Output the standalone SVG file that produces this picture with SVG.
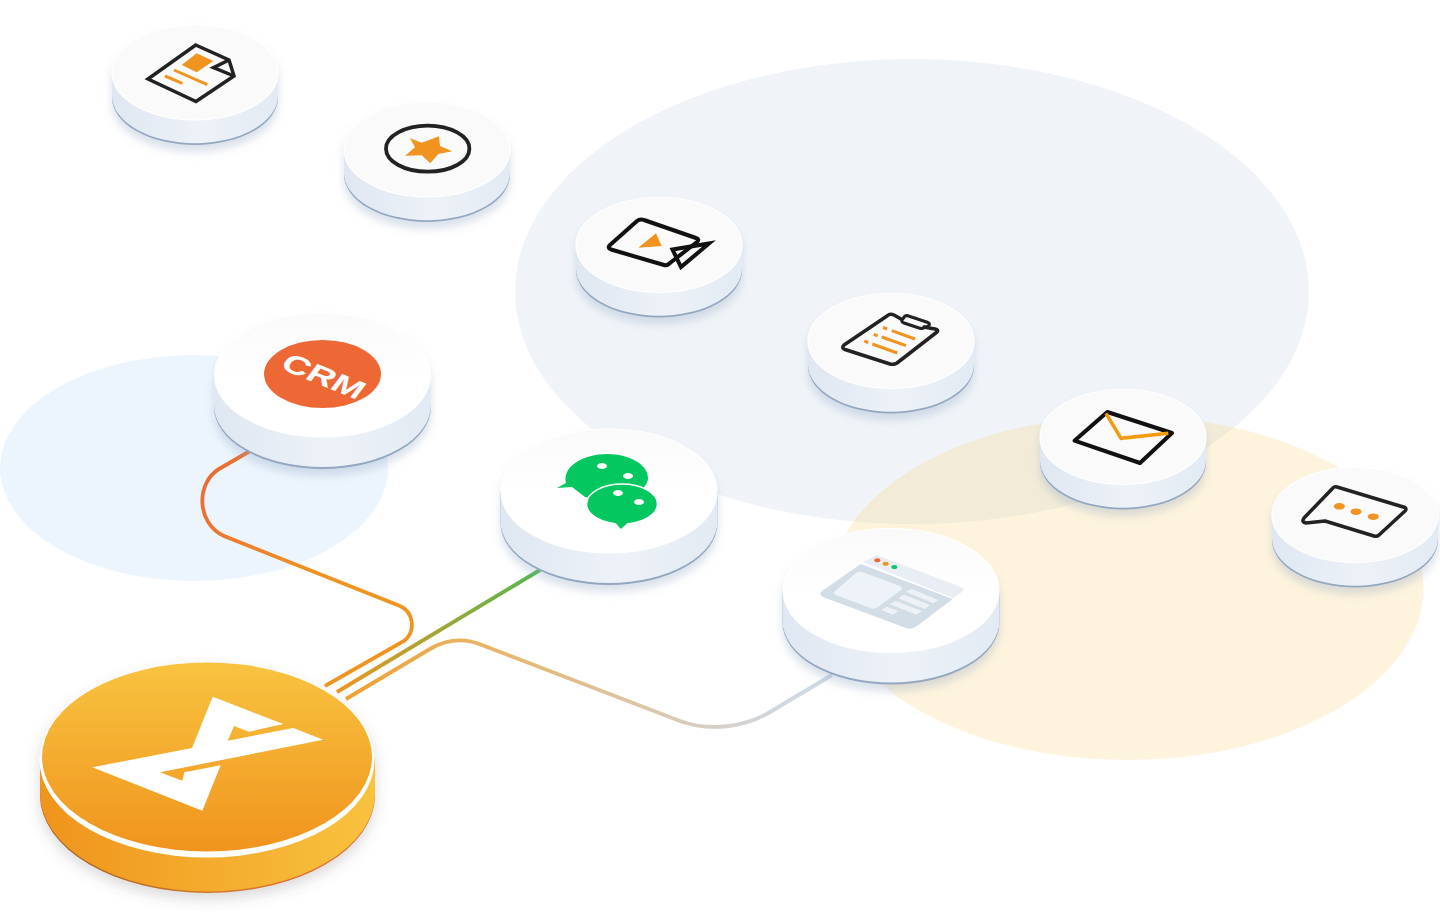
<svg xmlns="http://www.w3.org/2000/svg" width="1440" height="920" viewBox="0 0 1440 920">
<style>
.ik{fill:none;stroke:#222;stroke-width:3.5;stroke-linejoin:round;stroke-linecap:round}
.im{fill:none;stroke:#222;stroke-width:3.5;stroke-linejoin:miter}
.or{fill:#f0941f}
.ol{fill:none;stroke:#f0941f;stroke-width:3}
.cn{fill:none;stroke-width:3.8;stroke-linecap:butt}
.rim{stroke:#fff;stroke-width:1.2}
</style>
<defs>
<linearGradient id="side" x1="0" y1="0" x2="1" y2="0"><stop offset="0" stop-color="#dfe7f2"/><stop offset=".55" stop-color="#eef2f8"/><stop offset="1" stop-color="#e2eaf3"/></linearGradient>
<linearGradient id="topw" x1="0" y1="0" x2="0" y2="1"><stop offset="0" stop-color="#fafafa"/><stop offset=".5" stop-color="#ffffff"/></linearGradient>
<linearGradient id="gtop" x1="0" y1="0" x2="0" y2="1"><stop offset="0" stop-color="#f8c340"/><stop offset="1" stop-color="#f0941e"/></linearGradient>
<linearGradient id="gside" x1="0" y1="0" x2="1" y2="0"><stop offset="0" stop-color="#ef941d"/><stop offset="1" stop-color="#f8c23e"/></linearGradient>
<linearGradient id="gedge" x1="0" y1="0" x2="1" y2="0"><stop offset="0" stop-color="#9c5a18"/><stop offset=".5" stop-color="#cf7a28"/><stop offset="1" stop-color="#e8693a"/></linearGradient>
<linearGradient id="c1" gradientUnits="userSpaceOnUse" x1="210" y1="470" x2="400" y2="640"><stop offset="0" stop-color="#ea6b35"/><stop offset=".6" stop-color="#f0941f"/></linearGradient>
<linearGradient id="c2" gradientUnits="userSpaceOnUse" x1="540" y1="570" x2="337" y2="692"><stop offset="0" stop-color="#52b84e"/><stop offset="1" stop-color="#f0941f"/></linearGradient>
<linearGradient id="c3" gradientUnits="userSpaceOnUse" x1="346" y1="698" x2="832" y2="680"><stop offset="0" stop-color="#f0a030"/><stop offset=".3" stop-color="#e8b468"/><stop offset=".9" stop-color="#cfd8e3"/></linearGradient>
<filter id="sh" x="-20%" y="-20%" width="140%" height="150%"><feDropShadow dx="0" dy="7" stdDeviation="4" flood-color="#8da3c2" flood-opacity=".32"/></filter>
<filter id="shg" x="-20%" y="-20%" width="140%" height="150%"><feDropShadow dx="0" dy="6" stdDeviation="7" flood-color="#555" flood-opacity=".22"/></filter>
<g id="disc-s" filter="url(#sh)">
<path d="M-83,0V25A83,47.500 0 0 0 83,25V0Z" fill="#93a7c0"/>
<path d="M-83,0V23.200A83,47.500 0 0 0 83,23.200V0Z" fill="url(#side)"/>
<ellipse rx="83" ry="47.500" fill="#fafafa" class="rim"/>
</g>
<g id="disc-l" filter="url(#sh)">
<path d="M-108.500,0V32A108.500,62 0 0 0 108.500,32V0Z" fill="#93a7c0"/>
<path d="M-108.500,0V30A108.500,62 0 0 0 108.500,30V0Z" fill="url(#side)"/>
<ellipse rx="108" ry="62" fill="url(#topw)" class="rim"/>
</g>
</defs>
<rect width="1440" height="920" fill="#fff"/>
<g id="backdrops">
<ellipse cx="912" cy="291.500" rx="397" ry="232.500" fill="#f0f4f8"/>
<ellipse cx="194" cy="468" rx="194" ry="113" fill="#ecf5fd"/>
<ellipse cx="1127" cy="588" rx="296.500" ry="172" fill="#fac855" fill-opacity=".2"/>
</g>
<g id="connectors">
<path class="cn" stroke="url(#c1)" d="M250,451L219,469C196,483 196,523 224,536L400,606C414,612 416,632 404,641L325,686"/>
<path class="cn" stroke="url(#c2)" d="M540,570L337,692"/>
<path class="cn" stroke="url(#c3)" d="M346,699L430,649C447,639 465,638 482,645L680,721C710,732 745,727 770,712L832,675"/>
</g>
<g id="node-doc"><use href="#disc-s" x="195" y="72.500"/>
<path class="im" d="M195.700,45L229,60L234,76L196,101.500L148,79Z"/>
<path class="im" d="M229,60L213.500,67.700L234,76"/>
<path class="or" d="M196.700,53.300L213.300,61L196.700,72.300L181.700,65Z"/>
<path class="ol" d="M174,70L207.300,84.700M165,76L182.300,83.300"/>
</g>
<g id="node-star"><use href="#disc-s" x="427" y="149.500"/>
<ellipse cx="427.700" cy="148.700" rx="41.700" ry="23" fill="none" stroke="#222" stroke-width="3.800"/>
<path class="or" d="M410,138.300L421.700,142.700L439,136.300L440,146L452.300,151.300L438.300,154L430.300,163.300L421.700,155.300L405,155.700L415,147.300Z"/>
</g>
<g id="node-video"><use href="#disc-s" x="659" y="245"/>
<path class="ik" style="stroke:#111;stroke-width:4" d="M697,242Q700,239 696,238L644,220Q640,218.500 637,221L610,245Q607,248 611,249.500L664,265Q667,266 670,263Z"/>
<path d="M672.500,249.500L709,243.500L681,267Z" fill="none" stroke="#111" stroke-width="4"/>
<path class="or" d="M656,233.300L661.700,246L638.300,247.700Z"/>
</g>
<g id="node-clipboard"><use href="#disc-s" x="891" y="341"/>
<path class="ik" d="M901,319L894,315Q890,313 887,316L844,345Q841,348 845,349.500L890,364Q894,365 897,363L937,332Q939,330 935,329L924,327"/>
<path class="ik" d="M907,315.500L928,322.500Q931,324 928,326L924,328Q922,329 919,328L904,323Q901,322 902,320L905,316Z" style="stroke-width:3"/>
<path class="ol" d="M891.700,330.700L915,339M881.700,337L906,345.700M872.300,344L897.300,353M883,327.500L887,329M873.700,334.300L877.700,335.800M864.300,341L868.300,342.500"/>
</g>
<g id="node-mail"><use href="#disc-s" x="1123" y="437"/>
<path class="ik" style="stroke:#111;stroke-width:4" d="M1107.300,412L1172,433L1140,463L1074.500,440.700Z"/>
<path d="M1106,413.300L1121,438.300L1168.300,433.300" fill="none" stroke="#f59a0e" stroke-width="3.500"/>
</g>
<g id="node-chat"><use href="#disc-s" x="1355" y="515"/>
<path class="ik" d="M1337,487L1405,507.500Q1407,509 1405,511L1379,535Q1377,537 1374,536L1325,521L1306,523Q1301,522 1304,518L1332,489Q1334,486 1337,487Z"/>
<ellipse class="or" cx="1339.300" cy="506.300" rx="5.500" ry="3.300"/>
<ellipse class="or" cx="1356" cy="511.700" rx="5.500" ry="3.300"/>
<ellipse class="or" cx="1373.300" cy="516.700" rx="5.500" ry="3.300"/>
</g>
<g id="node-crm"><use href="#disc-l" x="322.500" y="375"/>
<ellipse cx="322.500" cy="374" rx="58.500" ry="34" fill="#ee6836"/>
<text transform="matrix(0.93,0.38,-0.45,0.6,318,384)" text-anchor="middle" font-family="'Liberation Sans','Open Sans',sans-serif" font-weight="700" font-size="37" fill="#fff">CRM</text>
</g>
<g id="node-wechat"><use href="#disc-l" x="609" y="491"/>
<path d="M557,488L566,483C562,466 584,454 607,454C630,454 648,465 648,478C648,490 630,498 607,498C598,498 592,499 585,497L572,487Z" fill="#05c75f"/>
<ellipse cx="622" cy="504" rx="35.500" ry="20" fill="#05c75f" stroke="#fff" stroke-width="1.500"/>
<path d="M615,522.500L621,529L628,522.500Z" fill="#05c75f"/>
<ellipse cx="602" cy="466" rx="5" ry="3" fill="#fff"/>
<ellipse cx="628" cy="476" rx="5" ry="3" fill="#fff"/>
<ellipse cx="618" cy="493" rx="5" ry="3" fill="#fff"/>
<ellipse cx="639" cy="502" rx="5" ry="3" fill="#fff"/>
</g>
<g id="node-browser"><use href="#disc-l" x="891" y="590.500"/>
<path d="M876.700,555L961,587Q966,590 962,592L953,598L863,562Z" fill="#e9eef4"/>
<path d="M860.700,564L952.700,599L917,626Q912,630 906,628L823,597Q818,594 822,591Z" fill="#d3dde6"/>
<path d="M862,572L900,586Q904,588 901,590L878,607Q874,610 870,608L836,595Q832,593 835,591L856,573Q859,571 862,572Z" fill="#eef2f9"/>
<path fill="#eef2f7" d="M911.700,589L938.300,600L933.300,603.300L906,591.700ZM904,594.700L930,605L924.700,609L898.300,598.300ZM896,601L921.700,611L916.700,614.700L890,604.300ZM886.700,606.700L898.300,611L893.300,614.700L881,610Z"/>
<ellipse cx="877.300" cy="560.300" rx="3" ry="2" fill="#ee6a35"/>
<ellipse cx="885.700" cy="563.700" rx="3" ry="2" fill="#f0941f"/>
<ellipse cx="894.300" cy="567" rx="3" ry="2" fill="#0cc860"/>
</g>
<g id="node-hub">
<g filter="url(#shg)">
<path d="M40,758V795A167.500,98 0 0 0 375,795V758Z" fill="url(#gedge)"/>
<path d="M40,758V793.500A167.500,98 0 0 0 375,793.500V758Z" fill="url(#gside)"/>
<ellipse cx="207" cy="760" rx="167.500" ry="97.500" fill="#fff"/>
</g>
<ellipse cx="207" cy="757" rx="165" ry="94.500" fill="url(#gtop)"/>
<path d="M212.700,696.700L283.300,724L249,731.700L234,726L227.700,740.700L293.300,728L323.300,739.700L160,772.300L182.300,780.700L184.300,772.300L220.700,765.300L202.300,810.700L92.300,767.300L192,748Z" fill="#fff"/>
</g>
</svg>
